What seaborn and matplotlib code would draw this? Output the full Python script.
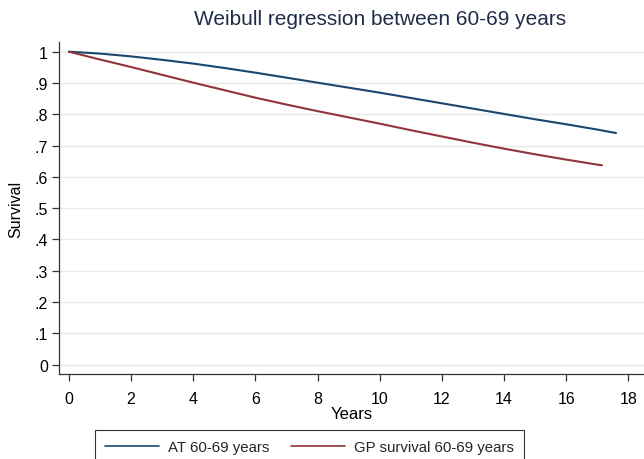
import matplotlib
matplotlib.use("Agg")
import matplotlib.pyplot as plt
import seaborn as sns
import pandas as pd
from matplotlib.lines import Line2D

years_at = [0, 1, 2, 3, 4, 5, 6, 7, 8, 9, 10, 11, 12, 13, 14, 15, 16, 17, 17.6]
surv_at = [1.0, 0.994, 0.985, 0.974, 0.962, 0.948, 0.933, 0.917, 0.901, 0.885, 0.869, 0.852, 0.835, 0.818, 0.801, 0.784, 0.768, 0.751, 0.740]
years_gp = [0, 1, 2, 3, 4, 5, 6, 7, 8, 9, 10, 11, 12, 13, 14, 15, 16, 17, 17.15]
surv_gp = [1.0, 0.975, 0.951, 0.926, 0.901, 0.877, 0.853, 0.831, 0.810, 0.790, 0.770, 0.749, 0.729, 0.709, 0.690, 0.672, 0.655, 0.639, 0.637]
labels = ["AT 60-69 years", "GP survival 60-69 years"]
x_ticks = [0, 2, 4, 6, 8, 10, 12, 14, 16, 18]
y_ticks = [0, 0.1, 0.2, 0.3, 0.4, 0.5, 0.6, 0.7, 0.8, 0.9, 1.0]
y_tick_labels = ["0", ".1", ".2", ".3", ".4", ".5", ".6", ".7", ".8", ".9", "1"]

df = pd.concat([
    pd.DataFrame({"Years": years_at, "Survival": surv_at, "grp": labels[0]}),
    pd.DataFrame({"Years": years_gp, "Survival": surv_gp, "grp": labels[1]}),
])

sns.set_style("white")
plt.rcParams["font.family"] = ["Liberation Sans", "DejaVu Sans"]

fig = plt.figure(figsize=(6.44, 4.60), dpi=100)
ax = fig.add_axes([0.0916, 0.185, 0.9084, 0.7215])

sns.lineplot(data=df, x="Years", y="Survival", hue="grp",
             palette={labels[0]: "#1a476f", labels[1]: "#90353b"},
             linewidth=1.5, ax=ax, legend=False, sort=False)

ax.set_xlim(-0.32, 18.5)
ax.set_ylim(-0.03, 1.031)
ax.set_xticks(x_ticks)
ax.set_yticks(y_ticks)
ax.set_yticklabels(y_tick_labels)
ax.tick_params(axis="both", direction="out", length=5, width=0.9, color="#333333",
               labelsize=11.5, labelcolor="black", left=True, bottom=True)
ax.tick_params(axis="x", pad=7)
ax.tick_params(axis="y", pad=3)
ax.yaxis.grid(True, color="#eaeaea", linewidth=1.0)
ax.xaxis.grid(False)
ax.set_axisbelow(True)
for s in ["top", "right"]:
    ax.spines[s].set_visible(False)
for s in ["left", "bottom"]:
    ax.spines[s].set_color("#333333")
    ax.spines[s].set_linewidth(0.9)

ax.set_xlabel("Years", fontsize=12, color="black", labelpad=0)
ax.set_ylabel("Survival", fontsize=11.5, color="black", labelpad=8)

fig.text(0.59, 0.958, "Weibull regression between 60-69 years", ha="center", va="center",
         fontsize=15, color="#1f2d4a")

handles = [Line2D([], [], color="#1a476f", lw=1.2), Line2D([], [], color="#90353b", lw=1.2)]
leg = fig.legend(handles, labels, loc="upper center", bbox_to_anchor=(0.4806, 0.0635),
                 ncol=2, frameon=True, fancybox=False, edgecolor="black", fontsize=10.8,
                 handlelength=3.6, columnspacing=1.4, borderpad=0.7, handletextpad=0.6,
                 borderaxespad=0)
leg.get_frame().set_linewidth(0.8)

fig.savefig("out.png", dpi=100, facecolor="white")
